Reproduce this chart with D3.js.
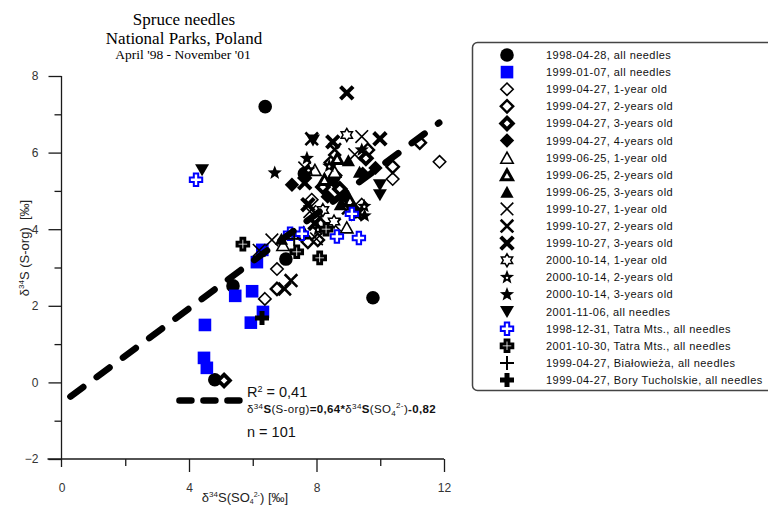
<!DOCTYPE html>
<html><head><meta charset="utf-8">
<script src="https://cdn.jsdelivr.net/npm/d3@7/dist/d3.min.js"></script>
<style>
body{margin:0;background:#fff;}
svg text{font-family:"Liberation Sans",Arial,sans-serif;white-space:pre;}
</style></head>
<body><svg id="c" width="768" height="506"></svg>
<script>
// ---------- data ----------
const titleLines = ["Spruce needles", "National Parks, Poland", "April '98 - November '01"];
const xTicks = [0, 4, 8, 12];
const xMinorTicks = [2, 6, 10];
const yTicks = [-2, 0, 2, 4, 6, 8];
const yMinorTicks = [-1, 1, 3, 5, 7];
const seriesNames = [
  "1998-04-28, all needles", "1999-01-07, all needles",
  "1999-04-27, 1-year old", "1999-04-27, 2-years old", "1999-04-27, 3-years old", "1999-04-27, 4-years old",
  "1999-06-25, 1-year old", "1999-06-25, 2-years old", "1999-06-25, 3-years old",
  "1999-10-27, 1-year old", "1999-10-27, 2-years old", "1999-10-27, 3-years old",
  "2000-10-14, 1-year old", "2000-10-14, 2-years old", "2000-10-14, 3-years old",
  "2001-11-06, all needles", "1998-12-31, Tatra Mts., all needles", "2001-10-30, Tatra Mts., all needles",
  "1999-04-27, Białowieża, all needles", "1999-04-27, Bory Tucholskie, all needles"
];
const seriesSymbols = ["circle","square","diamond1","diamond2","diamond3","diamond4",
  "tri1","tri2","tri3","x1","x2","x3","hexagram","star2","star3","triDown",
  "crossBlue","crossBlack","plusThin","plusThick"];
const s1998_04_28 = [[6.39,7.2],[7.04,3.22],[5.38,2.52],[9.77,2.21],[4.81,0.07],[7.62,5.45],[8.85,4.9],[9.2,4.45]];
const s1999_01_07 = [[6.3,3.46],[6.13,3.14],[5.45,2.26],[5.98,2.38],[5.94,1.56],[6.32,1.84],[4.5,1.5],[4.47,0.64],[4.56,0.38]];
const s1999_04_1y = [[11.86,5.76],[10.39,5.31],[9.42,4.64],[6.76,2.96],[6.38,2.18],[7.85,4.77],[8.6,5.4]];
const s1999_04_2y = [[11.24,6.26],[10.39,5.63],[6.76,2.44],[7.73,3.67],[8.04,3.72],[9.61,6.07],[8.45,5.74]];
const s1999_04_3y = [[5.1,0.05],[8.2,5.1],[8.73,5.05],[9.55,5.85]];
const s1999_04_4y = [[7.23,5.16],[9.45,5.45],[8.35,4.85],[9.85,5.6]];
const s1999_06_1y = [[6.95,3.59],[8.57,5.5],[7.95,5.55],[8.95,4.05]];
const s1999_06_2y = [[8.25,5.3],[9.05,4.75],[7.6,3.9],[8.65,5.85]];
const s1999_06_3y = [[9.0,5.8],[9.35,5.5],[8.75,4.65],[6.9,3.75]];
const s1999_10_1y = [[9.42,6.42],[7.63,5.6],[8.57,4.11],[6.6,3.72],[8.0,3.75],[7.79,4.46],[9.2,5.95],[6.2,3.45]];
const s1999_10_2y = [[7.85,6.36],[8.57,6.08],[7.2,2.66],[7.0,2.44],[9.0,4.55],[8.1,4.3]];
const s1999_10_3y = [[8.95,7.56],[9.99,6.36],[8.51,6.28],[7.63,5.21],[7.73,4.64],[7.95,4.15],[9.25,4.4]];
const s2000_10_1y = [[8.95,6.46],[8.55,4.2],[8.2,4.5]];
const s2000_10_2y = [[7.75,5.55],[9.5,4.6],[8.4,5.65],[8.05,4.0]];
const s2000_10_3y = [[6.69,5.47],[9.42,6.07],[9.51,4.35],[8.85,4.8],[7.7,5.85]];
const s2001_11_06 = [[4.41,5.55],[7.89,6.33],[9.99,5.16],[9.99,4.9],[8.55,5.2]];
const sTatra1998 = [[4.22,5.29],[7.17,3.88],[7.54,3.88],[8.64,3.81],[9.33,3.77],[9.11,4.4]];
const sTatra2001 = [[5.69,3.61],[7.38,3.41],[8.1,3.25],[8.3,4.0]];
const sBialowieza = [[7.3,3.75]];
const sBory = [[6.29,1.68]];
const seriesValues = [s1998_04_28,s1999_01_07,s1999_04_1y,s1999_04_2y,s1999_04_3y,s1999_04_4y,
  s1999_06_1y,s1999_06_2y,s1999_06_3y,s1999_10_1y,s1999_10_2y,s1999_10_3y,
  s2000_10_1y,s2000_10_2y,s2000_10_3y,s2001_11_06,sTatra1998,sTatra2001,sBialowieza,sBory];
const fitLine = [[0.28,-0.37],[11.85,6.78]];
const fitLegendX = [3.7, 5.75];
const fitLegendY = -0.47;
const statR2 = "0,41";
const statN = "101";

// ---------- drawing ----------
const svg = d3.select("#c");
const x = d3.scaleLinear().domain([0,12]).range([61.5,444]);
const y = d3.scaleLinear().domain([-2,8]).range([459,76]);

// title
const tt = svg.append("g").attr("text-anchor","middle").attr("fill","#000");
tt.append("text").attr("x",184).attr("y",25).attr("font-size",17).style("font-family","'Liberation Serif',serif").text(titleLines[0]);
tt.append("text").attr("x",184).attr("y",44).attr("font-size",17).style("font-family","'Liberation Serif',serif").text(titleLines[1]);
tt.append("text").attr("x",183).attr("y",58.5).attr("font-size",13.5).style("font-family","'Liberation Serif',serif").text(titleLines[2]);

// axes
const axCol = "#1a1a1a";
const yAx = svg.append("g").attr("transform",`translate(${x(0)},0)`)
  .call(d3.axisLeft(y).tickValues(yTicks).tickSize(13).tickPadding(10).tickFormat(d3.format("d")));
const yMin = svg.append("g").attr("transform",`translate(${x(0)},0)`)
  .call(d3.axisLeft(y).tickValues(yMinorTicks).tickSize(7).tickFormat(""));
const xAx = svg.append("g").attr("transform",`translate(0,${y(-2)})`)
  .call(d3.axisBottom(x).tickValues(xTicks).tickSize(13).tickPadding(11).tickFormat(d3.format("d")));
const xMin = svg.append("g").attr("transform",`translate(0,${y(-2)})`)
  .call(d3.axisBottom(x).tickValues(xMinorTicks).tickSize(7).tickFormat(""));
[yAx,yMin,xAx,xMin].forEach(g=>{
  g.select(".domain").remove();
  g.selectAll("line").attr("stroke",axCol).attr("stroke-width",1.3);
  g.selectAll("text").attr("fill","#333").attr("font-size",12).style("font-family","'Liberation Sans',Arial,sans-serif");
});
xAx.selectAll(".tick line").filter(d=>d===0).remove();
svg.append("line").attr("x1",x(0)).attr("x2",x(0)).attr("y1",y(8)).attr("y2",y(-2)+8).attr("stroke",axCol).attr("stroke-width",1.3);
svg.append("line").attr("x1",x(0)-14).attr("x2",x(12)).attr("y1",y(-2)).attr("y2",y(-2)).attr("stroke",axCol).attr("stroke-width",1.3);

// axis titles
const yl = svg.append("text").attr("transform","translate(29,248) rotate(-90)").attr("text-anchor","middle").attr("font-size",13).attr("fill","#222");
yl.append("tspan").text("δ");
yl.append("tspan").attr("font-size",8).attr("dy",-5).text("34");
yl.append("tspan").attr("dy",5).text("S (S-org)  [‰]");
const xl = svg.append("text").attr("x",245).attr("y",502).attr("text-anchor","middle").attr("font-size",13).attr("fill","#222");
xl.append("tspan").text("δ");
xl.append("tspan").attr("font-size",8).attr("dy",-5).text("34");
xl.append("tspan").attr("dy",5).text("S(SO");
xl.append("tspan").attr("font-size",7).attr("dy",2).text("4");
xl.append("tspan").attr("font-size",7).attr("dy",-7).text("2-");
xl.append("tspan").attr("dy",5).text(") [‰]");

// symbols
function drawSymbol(g, type){
  const star = (ro, ri, n) => { const p=[]; for(let i=0;i<2*n;i++){const r=i%2?ri:ro;const a=-Math.PI/2+i*Math.PI/n;p.push([r*Math.cos(a),r*Math.sin(a)]);} return "M"+p.map(q=>q.join(",")).join("L")+"Z"; };
  const cross = (a, w) => `M${-w},${-a}H${w}V${-w}H${a}V${w}H${w}V${a}H${-w}V${w}H${-a}V${-w}H${-w}Z`;
  const dia = r => `M0,${-r}L${r},0L0,${r}L${-r},0Z`;
  const tri = r => `M0,${-r}L${r*0.95},${r*0.7}L${-r*0.95},${r*0.7}Z`;
  switch(type){
    case "circle": g.append("circle").attr("r",6.8).attr("fill","#000"); break;
    case "square": g.append("rect").attr("x",-6.3).attr("y",-6.3).attr("width",12.6).attr("height",12.6).attr("fill","#0000ff"); break;
    case "diamond1": g.append("path").attr("d",dia(6.2)).attr("fill","#fff").attr("stroke","#000").attr("stroke-width",1.6); break;
    case "diamond2": g.append("path").attr("d",dia(6.2)).attr("fill","#fff").attr("stroke","#000").attr("stroke-width",2.4); break;
    case "diamond3": g.append("path").attr("d",dia(5.8)).attr("fill","#fff").attr("stroke","#000").attr("stroke-width",3.8); break;
    case "diamond4": g.append("path").attr("d",dia(7.2)).attr("fill","#000"); break;
    case "tri1": g.append("path").attr("d",tri(6.5)).attr("fill","#fff").attr("stroke","#000").attr("stroke-width",1.6).attr("transform","translate(0,1)"); break;
    case "tri2": g.append("path").attr("d",tri(5.8)).attr("fill","#fff").attr("stroke","#000").attr("stroke-width",3).attr("transform","translate(0,1)"); break;
    case "tri3": g.append("path").attr("d",tri(7)).attr("fill","#000").attr("transform","translate(0,1)"); break;
    case "x1": case "x2": case "x3": {
      const w = type==="x1"?1.6:(type==="x2"?2.6:4); const r = 6.3;
      g.append("path").attr("d",`M${-r},${-r}L${r},${r}M${-r},${r}L${r},${-r}`).attr("stroke","#000").attr("stroke-width",w).attr("fill","none"); break; }
    case "hexagram": {
      const r=6.5; const p=[];
      for(let i=0;i<12;i++){const rr=i%2?r*0.58:r;const a=-Math.PI/2+i*Math.PI/6;p.push([rr*Math.cos(a),rr*Math.sin(a)]);}
      g.append("path").attr("d","M"+p.map(q=>q.join(",")).join("L")+"Z").attr("fill","#fff").attr("stroke","#000").attr("stroke-width",1.5); break; }
    case "star2": g.append("path").attr("d",star(7.5,3.2,5)).attr("fill","#000");
      g.append("circle").attr("r",1.2).attr("cy",0.5).attr("fill","#fff"); break;
    case "star3": g.append("path").attr("d",star(7.5,3.2,5)).attr("fill","#000"); break;
    case "triDown": g.append("path").attr("d",`M${-7},${-5.5}L7,${-5.5}L0,${6.5}Z`).attr("fill","#000"); break;
    case "crossBlue": g.append("path").attr("d",cross(6.2,2.2)).attr("fill","#fff").attr("stroke","#0000ff").attr("stroke-width",2); break;
    case "crossBlack": g.append("path").attr("d",cross(5.8,1.9)).attr("fill","#fff").attr("stroke","#000").attr("stroke-width",3); break;
    case "plusThin": g.append("path").attr("d","M-7,0H7M0,-7V7").attr("stroke","#000").attr("stroke-width",2); break;
    case "plusThick": g.append("path").attr("d",cross(7,2.5)).attr("fill","#000"); break;
  }
}

// points
const pts = svg.append("g");
seriesValues.forEach((vals,i)=>{
  pts.selectAll(null).data(vals).enter().append("g")
    .attr("transform",d=>`translate(${x(d[0])},${y(d[1])})`)
    .each(function(){ drawSymbol(d3.select(this), seriesSymbols[i]); });
});

// regression line
const dashStyle = g => g.attr("stroke","#000").attr("stroke-width",6.5).attr("stroke-linecap","round").attr("fill","none");
const fitPath = svg.append("path").attr("d",d3.line().x(d=>x(d[0])).y(d=>y(d[1]))(fitLine)).call(dashStyle);
const fitLen = fitPath.node().getTotalLength();
const period = (fitLen - 1.5) / 14;
fitPath.attr("stroke-dasharray", `16,${period-16}`);
svg.append("path").attr("d",d3.line()([[x(fitLegendX[0]),y(fitLegendY)],[x(fitLegendX[1]),y(fitLegendY)]])).call(dashStyle).attr("stroke-dasharray","12,12");

// stats text
const ax0 = 247;
svg.append("text").attr("x",ax0).attr("y",397).attr("font-size",14.5).attr("fill","#111")
  .html(`R<tspan font-size="9" dy="-5">2</tspan><tspan dy="5"> = ${statR2}</tspan>`);
const eq = svg.append("text").attr("x",ax0).attr("y",413).attr("font-size",11.5).attr("letter-spacing",0.35).attr("fill","#111");
eq.append("tspan").text("δ");
eq.append("tspan").attr("font-size",8).attr("dy",-4).text("34");
eq.append("tspan").attr("dy",4).attr("font-weight","bold").text("S");
eq.append("tspan").text("(S-org)");
eq.append("tspan").attr("font-weight","bold").text("=0,64*");
eq.append("tspan").text("δ");
eq.append("tspan").attr("font-size",8).attr("dy",-4).text("34");
eq.append("tspan").attr("dy",4).attr("font-weight","bold").text("S");
eq.append("tspan").text("(SO");
eq.append("tspan").attr("font-size",8).attr("dy",3).text("4");
eq.append("tspan").attr("font-size",8).attr("dy",-8).text("2-");
eq.append("tspan").attr("dy",5).text(")");
eq.append("tspan").attr("font-weight","bold").text("-0,82");
svg.append("text").attr("x",ax0).attr("y",437).attr("font-size",14.5).attr("fill","#111").text(`n = ${statN}`);

// legend
const lg = svg.append("g");
lg.append("rect").attr("x",472.5).attr("y",42.5).attr("width",320).attr("height",348).attr("rx",5)
  .attr("fill","#fff").attr("stroke","#444").attr("stroke-width",1.5);
const rowY = d3.scalePoint().domain(d3.range(seriesNames.length)).range([55,380]);
seriesNames.forEach((name,i)=>{
  const r = lg.append("g").attr("transform",`translate(507,${rowY(i)})`);
  drawSymbol(r, seriesSymbols[i]);
  lg.append("text").attr("x",546).attr("y",rowY(i)+4).attr("font-size",11).attr("letter-spacing",0.45).attr("fill","#111").text(name);
});
</script></body></html>
